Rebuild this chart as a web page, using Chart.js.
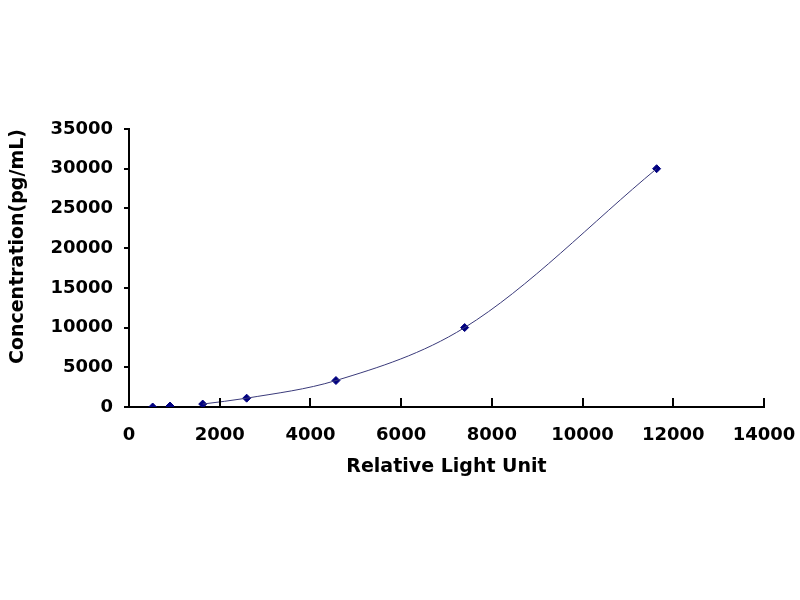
<!DOCTYPE html>
<html>
<head>
<meta charset="utf-8">
<script src="https://cdn.jsdelivr.net/npm/chart.js@4"></script>
<style>
html,body{margin:0;padding:0;background:#fff;}
#wrap{width:800px;height:600px;position:relative;}
</style>
</head>
<body>
<div id="wrap"><canvas id="c" width="800" height="600"></canvas></div>
<script>
const rlu = [522, 904, 1625, 2594, 4563, 7400, 11633];
const concentration = [0, 123.5, 370.4, 1111.1, 3333.3, 10000, 30000];
const xTicks = [0, 2000, 4000, 6000, 8000, 10000, 12000, 14000];
const yTicks = [0, 5000, 10000, 15000, 20000, 25000, 30000, 35000];
const xTitle = 'Relative Light Unit';
const yTitle = 'Concentration(pg/mL)';

const points = rlu.map((x, i) => ({x: x, y: concentration[i]}));
const curve = points.slice(2);

const FONT = 'DejaVu Sans';

const inwardTicks = {
  id: 'inwardTicks',
  afterDraw(chart) {
    const ctx = chart.ctx;
    const xs = chart.scales.x;
    const ys = chart.scales.y;
    const base = ys.getPixelForValue(0);
    ctx.save();
    ctx.strokeStyle = '#000';
    ctx.lineWidth = 2;
    xTicks.forEach(v => {
      if (v === 0) return;
      const px = Math.round(xs.getPixelForValue(v));
      ctx.beginPath();
      ctx.moveTo(px, base);
      ctx.lineTo(px, base - 9);
      ctx.stroke();
    });
    ctx.restore();
  }
};

new Chart(document.getElementById('c'), {
  type: 'scatter',
  data: {
    datasets: [
      {
        type: 'line',
        data: curve,
        borderColor: '#3a3a7a',
        borderWidth: 1,
        pointRadius: 0,
        fill: false,
        cubicInterpolationMode: 'monotone'
      },
      {
        data: points,
        pointStyle: 'rectRot',
        pointRadius: 4,
        backgroundColor: '#000080',
        borderColor: '#000080',
        borderWidth: 1
      }
    ]
  },
  plugins: [inwardTicks],
  options: {
    responsive: false,
    animation: false,
    layout: {padding: {left: 4, top: 129, right: 36, bottom: 118}},
    plugins: {legend: {display: false}, tooltip: {enabled: false}},
    scales: {
      x: {
        type: 'linear',
        min: 0, max: 14000,
        afterBuildTicks: s => { s.ticks = xTicks.map(v => ({value: v})); },
        afterFit: s => { s.height = 75; s.paddingRight = 0; s.paddingLeft = 0; },
        grid: {drawOnChartArea: false, drawTicks: false},
        border: {color: '#000', width: 2},
        ticks: {color: '#000', padding: 18, font: {family: FONT, size: 18, weight: 'bold'}, maxRotation: 0,
                callback: v => String(v)},
        title: {display: true, text: xTitle, color: '#000', padding: {top: 4, bottom: 4}, font: {family: FONT, size: 19, weight: 'bold'}}
      },
      y: {
        type: 'linear',
        min: 0, max: 35000,
        afterBuildTicks: s => { s.ticks = yTicks.map(v => ({value: v})); },
        afterFit: s => { s.width = 125; s.paddingTop = 0; s.paddingBottom = 0; },
        grid: {drawOnChartArea: false, drawTicks: true, tickLength: 5, color: '#000', lineWidth: 2},
        border: {color: '#000', width: 2},
        ticks: {color: '#000', padding: 11, font: {family: FONT, size: 18, weight: 'bold'},
                callback: v => String(v)},
        title: {display: true, text: yTitle, align: 'end', color: '#000', padding: {top: 3, bottom: 3}, font: {family: FONT, size: 19, weight: 'bold'}}
      }
    }
  }
});
</script>
</body>
</html>
